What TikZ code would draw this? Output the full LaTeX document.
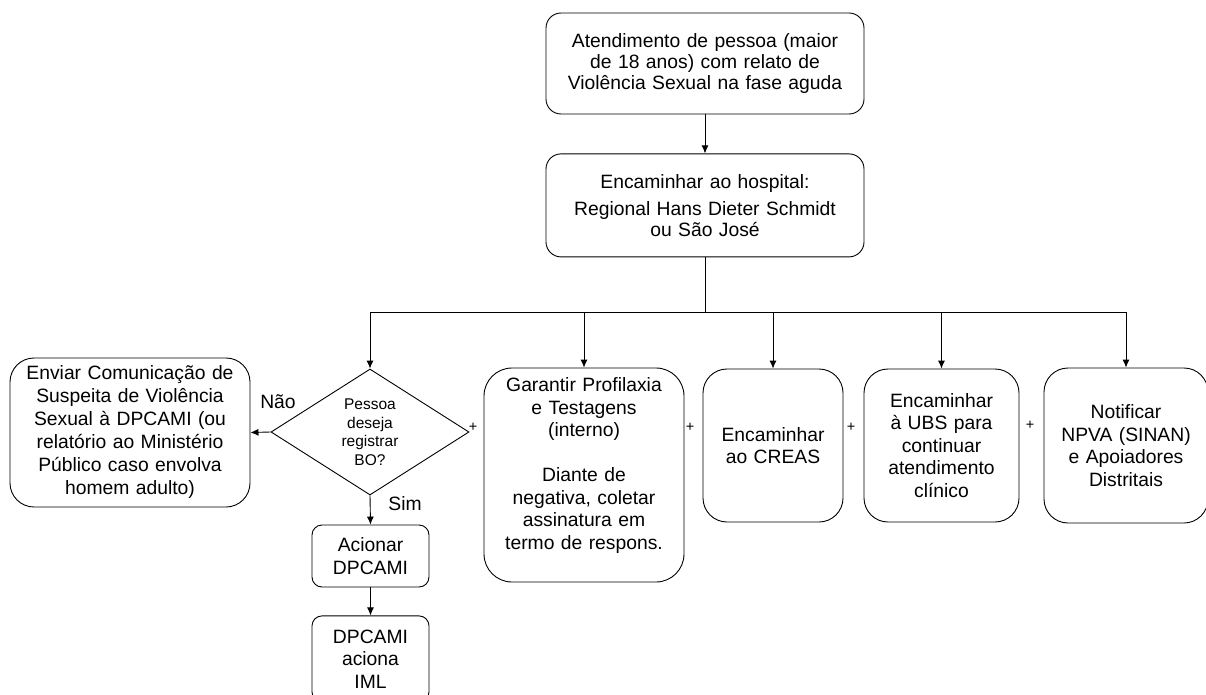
\documentclass[tikz,border=0pt]{standalone}
\usepackage{fontspec}
\setmainfont{Liberation Sans}
\usetikzlibrary{shapes.geometric, arrows.meta, positioning}

\begin{document}
\begin{tikzpicture}[x=1pt, y=-1pt, >={Latex[length=8pt, width=7pt]}, line width=0.9pt,
  font=\fontsize{19.3}{22.5}\selectfont,
  box/.style={draw, rectangle, rounded corners=#1, align=center, inner xsep=6pt, inner ysep=0pt},
  box/.default=24pt,
  plus/.style={font=\fontsize{14.5}{16}\selectfont, inner sep=0pt}]

\useasboundingbox (0,0) rectangle (1206,695);

\node[box=15pt, minimum width=318pt, minimum height=101pt, text width=306pt, font=\fontsize{19.3}{21}\selectfont] (atend) at (705,63.5) {Atendimento de pessoa (maior\\de 18 anos) com relato de\\Violência Sexual na fase aguda};
\node[box=15pt, minimum width=318pt, minimum height=103pt, text width=306pt, font=\fontsize{19.3}{21}\selectfont, below=39pt of atend] (hosp) {Encaminhar ao hospital:\\[6pt]Regional Hans Dieter Schmidt\\ou São José};
\coordinate (bus) at (705,312);

\node[diamond, draw, aspect=1.57, minimum width=198pt, minimum height=126pt, inner sep=0pt, align=center, font=\fontsize{15.5}{18.5}\selectfont] (bo) at (370,432) {Pessoa\\deseja\\registrar\\BO?};
\node[box, minimum width=240pt, minimum height=149pt, text width=228pt, font=\fontsize{19.3}{23}\selectfont] (envia) at (130,432.5) {Enviar Comunicação de\\Suspeita de Violência\\Sexual à DPCAMI (ou\\relatório ao Ministério\\Público caso envolva\\homem adulto)};
\node[box=10pt, minimum width=117pt, minimum height=62pt, text width=105pt] (acionar) at (370.5,556) {Acionar\\DPCAMI};
\node[box=10pt, minimum width=117pt, minimum height=86pt, text width=105pt, below=28pt of acionar] (iml) {DPCAMI\\aciona\\IML};

\node[box=28pt, minimum width=200pt, minimum height=214pt, text width=188pt] (garantir) at (584,475) {Garantir Profilaxia\\e Testagens\\(interno)\\[22.5pt]Diante de\\negativa, coletar\\assinatura em\\termo de respons.\\\mbox{}};
\node[box, minimum width=140pt, minimum height=153pt, text width=128pt] (creas) at (773,445.5) {Encaminhar\\ao CREAS};
\node[box, minimum width=155pt, minimum height=153pt, text width=143pt] (ubs) at (941.5,445.5) {Encaminhar\\à UBS para\\continuar\\atendimento\\clínico};
\node[box, minimum width=164pt, minimum height=155pt, text width=152pt] (notif) at (1126,445.5) {Notificar\\NPVA (SINAN)\\e Apoiadores\\Distritais};

\draw[->] (atend) -- (hosp);
\draw (hosp) -- (bus);
\draw[->] (bus) -| (bo.north);
\draw[->] (bus) -| (garantir.north);
\draw[->] (bus) -| (creas.north);
\draw[->] (bus) -| (ubs.north);
\draw[->] (bus) -| (notif.north);
\draw[->] (bo.west) -- (envia.east);
\draw[->] (bo.south) -- (acionar.north);
\draw[->] (acionar) -- (iml);

\node (nao) at (278,402) {Não};
\node (sim) at (405,504) {Sim};
\foreach \x/\y [count=\i] in {473/427, 690/427, 851/427, 1030/425}
  \node[plus] (plus\i) at (\x,\y) {+};

\end{tikzpicture}
\end{document}
